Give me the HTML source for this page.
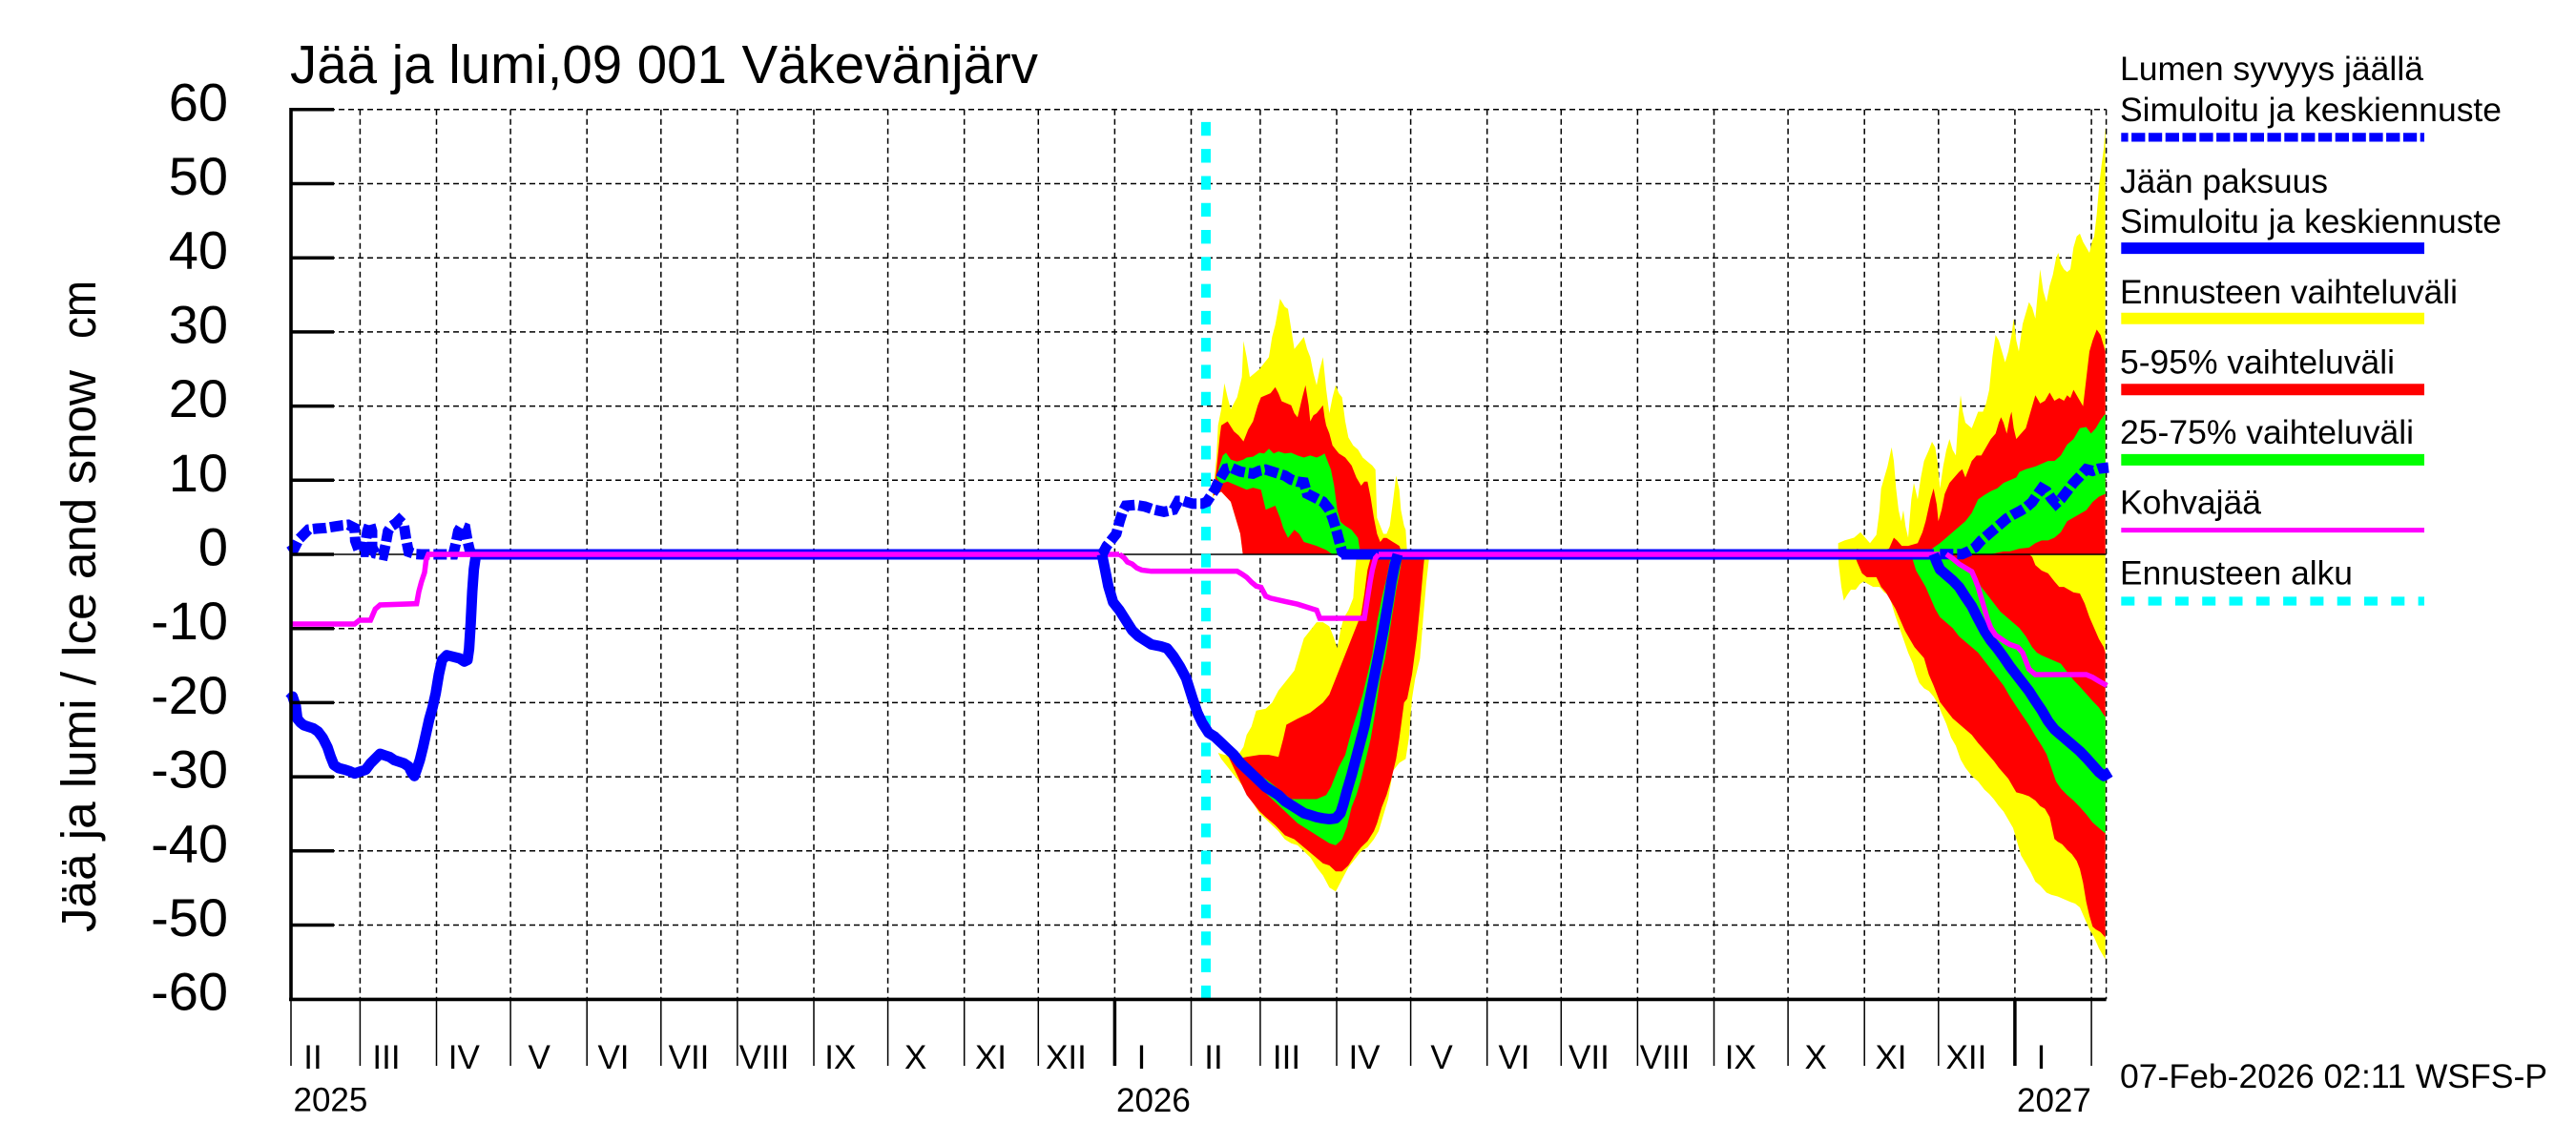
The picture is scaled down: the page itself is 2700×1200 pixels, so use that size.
<!DOCTYPE html>
<html><head><meta charset="utf-8">
<style>html,body{margin:0;padding:0;background:#fff;}svg{display:block}</style>
</head><body>
<svg width="2700" height="1200" viewBox="0 0 2700 1200" xmlns="http://www.w3.org/2000/svg" font-family="'Liberation Sans', Arial, sans-serif">
<rect width="2700" height="1200" fill="#fff"/>

<!-- grid -->
<path d="M377.4,114.8V1047.2 M457.5,114.8V1047.2 M535.1,114.8V1047.2 M615.2,114.8V1047.2 M692.8,114.8V1047.2 M772.9,114.8V1047.2 M853,114.8V1047.2 M930.6,114.8V1047.2 M1010.7,114.8V1047.2 M1088.3,114.8V1047.2 M1168.4,114.8V1047.2 M1248.5,114.8V1047.2 M1320.9,114.8V1047.2 M1401,114.8V1047.2 M1478.6,114.8V1047.2 M1558.7,114.8V1047.2 M1636.3,114.8V1047.2 M1716.4,114.8V1047.2 M1796.5,114.8V1047.2 M1874.1,114.8V1047.2 M1954.2,114.8V1047.2 M2031.8,114.8V1047.2 M2111.9,114.8V1047.2 M2192.1,114.8V1047.2 M2207.6,114.8V1047.2" stroke="#000" stroke-width="1.5" stroke-dasharray="6 4" fill="none"/>
<path d="M305,114.8H2207.6 M305,192.5H2207.6 M305,270.2H2207.6 M305,347.9H2207.6 M305,425.6H2207.6 M305,503.3H2207.6 M305,658.7H2207.6 M305,736.4H2207.6 M305,814.1H2207.6 M305,891.8H2207.6 M305,969.5H2207.6" stroke="#000" stroke-width="1.5" stroke-dasharray="6 4" fill="none"/>

<!-- 2026 forecast bands (zoom6 coords) -->
<g transform="translate(1140,290) scale(0.333333,0.42112)">
<path fill="#ffff00" d="M390,570 L405,450 410,370 420,330 430,265 440,300 450,330 470,300 485,250 490,160 500,200 510,250 525,240 540,230 555,215 570,200 580,150 590,120 605,55 620,75 630,80 640,130 650,180 665,165 680,150 690,180 700,200 710,240 720,270 730,230 740,200 750,280 760,340 770,300 780,270 790,290 800,300 810,360 820,400 835,420 850,430 865,450 880,460 895,470 905,480 910,600 920,620 930,640 940,640 950,620 960,560 970,495 980,530 985,580 995,620 1000,630 1005,691 L488,691 480,640 465,600 450,560 420,535 395,545 Z"/>
<path fill="#ff0000" d="M395,545 L405,480 415,400 420,370 440,360 460,385 475,395 490,410 505,380 520,360 535,320 545,300 560,295 575,290 590,275 600,290 610,310 625,315 640,320 650,340 660,350 675,300 685,270 695,320 700,360 710,345 720,340 730,330 740,320 745,350 750,370 760,390 770,420 780,430 790,440 810,450 830,470 845,500 860,520 870,510 880,510 890,550 900,600 910,640 920,660 930,650 940,650 950,655 960,660 970,665 980,670 990,691 L488,691 480,640 465,600 450,560 420,535 Z"/>
<path fill="#00ff00" d="M405,500 L415,470 425,445 435,438 450,455 470,460 490,455 500,450 520,448 540,438 555,440 570,428 585,440 600,435 620,440 640,438 660,445 680,450 700,445 720,450 735,445 745,440 755,460 765,480 775,520 785,580 795,610 810,620 830,630 850,650 858,691 L770,691 750,680 720,670 700,665 680,660 665,640 650,630 630,650 615,625 605,600 590,570 575,575 560,580 545,530 520,525 500,530 470,520 440,510 420,515 Z"/>
<path fill="#ffff00" d="M410,1185 L430,1190 470,1195 490,1170 500,1140 515,1120 530,1080 560,1075 580,1060 600,1030 620,1010 650,980 665,940 680,900 700,880 720,860 740,860 760,870 775,900 785,925 795,880 805,850 820,830 835,800 840,740 845,700 850,691 L1075,691 1065,760 1055,850 1045,950 1030,1000 1020,1050 1010,1150 1000,1200 980,1210 960,1230 945,1300 930,1340 915,1380 900,1400 880,1420 860,1430 840,1450 820,1470 800,1500 780,1530 760,1520 740,1490 720,1470 700,1445 680,1430 660,1415 640,1410 620,1400 600,1380 580,1365 560,1350 540,1335 520,1310 500,1280 480,1260 460,1240 440,1220 420,1200 Z"/>
<path fill="#ff0000" d="M440,1190 L470,1200 500,1195 540,1190 570,1190 600,1195 615,1150 625,1115 660,1100 700,1085 740,1060 760,1040 780,1000 800,960 830,900 860,840 870,790 880,730 890,700 900,691 L1060,691 1055,730 1045,820 1035,900 1020,990 1005,1050 995,1060 980,1150 970,1200 955,1250 940,1290 925,1320 910,1360 900,1380 880,1405 860,1420 840,1440 820,1465 800,1480 780,1480 760,1465 740,1460 710,1440 680,1420 650,1400 620,1390 590,1365 560,1345 540,1330 500,1290 470,1240 Z"/>
<path fill="#00ff00" d="M470,1195 L520,1230 560,1250 600,1275 640,1300 680,1300 720,1300 750,1290 765,1270 775,1250 790,1220 810,1190 830,1130 850,1080 865,1040 880,990 895,940 910,860 925,800 940,750 950,710 955,691 L990,691 980,740 970,780 960,830 950,880 935,950 920,1000 905,1080 890,1150 875,1200 860,1250 845,1290 830,1320 815,1370 800,1400 780,1415 760,1410 730,1395 700,1380 660,1360 620,1330 580,1300 540,1270 500,1235 Z"/>
</g>

<!-- 2027 forecast bands (zoom7 coords) -->
<g transform="translate(1900,110) scale(0.333333,0.57405)">
<path fill="#ffff00" d="M80,800 L100,795 130,790 150,780 165,790 180,800 200,785 210,740 215,700 225,680 235,660 248,625 255,650 262,700 270,740 278,760 285,740 292,770 300,790 310,720 318,690 330,720 340,680 350,650 365,630 375,615 385,625 392,650 400,700 410,660 420,630 430,610 440,630 450,640 458,570 465,530 472,560 480,580 490,585 500,590 510,575 520,560 535,560 545,545 555,520 565,460 575,420 585,430 595,450 605,470 615,450 625,420 632,390 640,430 648,450 660,400 670,380 680,360 690,370 700,390 708,340 715,300 725,340 735,360 745,330 755,310 765,280 772,270 780,290 790,300 800,305 810,300 820,260 830,240 840,235 850,250 860,260 870,270 878,250 885,240 893,200 900,150 908,110 915,80 920,40 L920,820 80,820 Z"/>
<path fill="#ff0000" d="M130,820 L140,810 160,815 200,815 240,810 255,790 265,795 280,805 300,805 330,800 345,780 355,760 370,720 380,700 390,730 395,760 405,740 415,710 430,690 445,680 460,670 470,665 480,680 490,665 500,650 515,640 530,640 545,625 560,610 575,600 585,580 592,570 600,580 610,600 620,570 625,560 632,590 640,610 655,600 670,590 685,560 700,530 715,545 730,540 745,525 760,540 775,535 790,540 800,530 810,535 820,520 835,535 850,550 860,500 870,450 880,430 893,410 905,420 915,440 920,450 L920,820 Z"/>
<path fill="#00ff00" d="M360,818 L380,808 400,800 420,790 440,780 460,770 480,760 500,745 520,720 540,712 560,705 580,700 600,690 620,685 640,680 650,670 670,665 700,660 720,655 740,650 760,650 780,640 800,620 820,610 840,590 860,588 875,600 890,590 905,575 918,565 920,565 L920,710 900,715 880,725 860,740 830,750 800,760 780,780 760,790 740,795 720,795 700,800 680,808 650,810 620,815 600,815 560,820 Z"/>
<path fill="#ffff00" d="M80,820 L920,820 920,1560 900,1540 885,1520 870,1505 855,1485 840,1465 825,1458 810,1455 790,1450 770,1445 750,1442 735,1438 715,1425 700,1418 685,1400 670,1385 655,1370 640,1340 630,1320 615,1305 600,1290 585,1280 570,1268 555,1258 540,1250 520,1235 500,1225 480,1210 465,1195 450,1170 435,1155 420,1130 405,1110 395,1095 380,1080 365,1070 350,1065 335,1055 325,1040 315,1020 300,1000 285,975 270,950 258,930 248,910 238,895 225,890 210,880 200,880 190,880 175,875 160,870 148,875 135,885 120,885 108,895 98,905 90,880 82,840 Z"/>
<path fill="#ff0000" d="M130,820 L680,820 690,825 700,840 720,850 740,855 760,870 775,880 790,880 805,885 820,890 840,892 855,910 870,935 885,955 900,975 915,990 920,1000 L920,1520 905,1510 890,1505 880,1500 870,1480 860,1455 850,1420 840,1395 830,1380 815,1368 800,1360 785,1350 770,1345 760,1340 745,1300 730,1285 715,1280 700,1270 680,1262 660,1258 640,1255 630,1245 615,1230 600,1220 585,1210 570,1198 555,1188 540,1178 520,1165 500,1150 480,1140 460,1130 440,1120 420,1105 400,1090 390,1075 380,1060 365,1040 350,1010 335,1000 320,990 305,975 290,960 275,940 260,920 245,905 230,890 215,880 200,862 185,862 170,862 155,855 140,835 Z"/>
<path fill="#00ff00" d="M310,822 L400,825 430,830 460,835 490,845 510,860 530,880 550,895 570,910 590,925 610,935 630,945 650,955 670,970 690,990 705,1000 720,1005 740,1010 760,1015 780,1020 800,1035 820,1050 840,1062 860,1075 880,1088 900,1100 920,1118 L920,1330 900,1320 880,1310 860,1295 840,1282 820,1270 800,1260 780,1248 765,1235 750,1210 735,1185 720,1170 700,1152 680,1132 660,1115 640,1098 620,1080 600,1060 580,1045 560,1030 540,1015 520,1000 500,990 480,980 460,970 440,955 420,945 400,935 385,920 370,900 355,880 340,865 325,850 Z"/>
</g>

<!-- zero line -->
<line x1="305" y1="581" x2="2207.6" y2="581" stroke="#000" stroke-width="1.5"/>

<!-- forecast start -->
<line x1="1264" y1="127.9" x2="1264" y2="1047.3" stroke="#00ffff" stroke-width="10" stroke-dasharray="14.3 13.98"/>

<!-- zero segments -->
<path d="M497,581H1155 M1406,581H2027" stroke="#0000ff" stroke-width="11" fill="none"/>
<path d="M450,581H1173 M1445,581H2043" stroke="#ff00ff" stroke-width="5.5" fill="none"/>

<!-- 2025 lines (zoom5 coords) -->
<g transform="translate(295,520) scale(0.333333)" fill="none">
<path vector-effect="non-scaling-stroke" stroke="#0000ff" stroke-width="11" stroke-dasharray="14 4" d="M25,175 L40,165 55,135 70,120 85,105 110,102 140,100 170,95 190,92 210,90 230,100 232,140 245,175 260,175 270,110 278,85 285,110 285,160 295,180 320,185 328,150 335,110 345,95 360,85 370,75 385,90 392,135 400,175 420,182 440,183 540,183 548,150 556,110 565,95 578,100 585,140 592,170 600,183"/>
<path vector-effect="non-scaling-stroke" stroke="#0000ff" stroke-width="11" stroke-linejoin="round" d="M25,640 L35,630 45,660 50,700 60,712 70,720 85,725 100,730 115,740 130,760 145,790 155,820 165,845 180,855 200,860 215,865 230,872 250,865 265,860 280,840 295,825 310,810 325,815 340,820 355,830 370,835 385,840 400,850 410,870 418,880 425,860 435,830 445,790 455,745 465,700 475,665 485,620 495,560 505,515 520,500 540,505 560,510 575,520 585,515 590,480 595,400 600,300 605,230 610,195 615,183 720,183"/>
<path vector-effect="non-scaling-stroke" stroke="#ff00ff" stroke-width="5.5" d="M30,402 L230,402 245,390 280,390 295,355 310,342 425,338 432,300 440,270 450,240 455,200 462,183 720,183"/>
</g>

<!-- 2026 lines (zoom6 coords) -->
<g transform="translate(1140,290) scale(0.333333,0.42112)" fill="none">
<path vector-effect="non-scaling-stroke" stroke="#0000ff" stroke-width="11" stroke-dasharray="14 4" d="M40,691 L50,685 60,670 75,655 90,640 100,610 110,585 120,570 150,568 180,572 210,580 240,585 270,580 285,558 300,558 330,565 360,565 375,560 385,548 400,530 410,512 420,498 435,478 450,475 480,485 500,488 520,490 540,483 560,480 580,485 600,490 620,495 640,505 660,510 680,512 690,540 710,548 740,560 760,580 770,600 780,625 790,655 800,685 810,691"/>
<path vector-effect="non-scaling-stroke" stroke="#0000ff" stroke-width="11" stroke-linejoin="round" d="M45,691 L55,730 65,770 80,810 100,830 120,855 140,880 160,895 180,905 200,915 230,920 250,925 270,945 290,970 310,1000 330,1050 345,1085 360,1110 380,1135 400,1145 420,1160 440,1175 460,1190 480,1210 500,1225 520,1240 540,1255 560,1270 580,1280 600,1290 620,1305 640,1315 660,1325 680,1335 700,1340 720,1345 740,1348 760,1350 780,1348 795,1335 805,1310 815,1280 830,1240 850,1180 870,1120 890,1040 910,960 930,880 945,810 955,760 965,720 975,691"/>
<path vector-effect="non-scaling-stroke" stroke="#ff00ff" stroke-width="5.5" d="M100,691 L115,700 125,710 140,715 155,725 170,730 200,733 300,733 470,733 485,740 500,748 515,760 530,770 545,773 560,795 575,800 620,808 660,815 700,825 720,830 730,850 870,850 880,800 888,760 895,730 905,700 915,691"/>
</g>

<!-- 2027 lines (zoom7 coords) -->
<g transform="translate(1900,110) scale(0.333333,0.57405)" fill="none">
<path vector-effect="non-scaling-stroke" stroke="#0000ff" stroke-width="11" stroke-dasharray="14 4" d="M400,820 L440,820 470,820 490,815 510,808 530,795 550,785 570,775 590,765 610,755 630,748 650,742 670,735 690,725 705,712 720,700 735,705 750,718 765,728 780,720 800,705 820,690 840,678 860,665 880,668 900,664 930,662"/>
<path vector-effect="non-scaling-stroke" stroke="#0000ff" stroke-width="11" stroke-linejoin="round" d="M380,820 L390,835 400,848 420,858 440,868 460,880 480,898 500,915 520,938 540,960 560,978 580,992 600,1008 620,1025 640,1040 660,1055 680,1070 700,1088 720,1105 740,1125 760,1140 780,1150 800,1160 820,1170 840,1180 860,1192 880,1205 900,1218 915,1225 935,1218"/>
<path vector-effect="non-scaling-stroke" stroke="#ff00ff" stroke-width="5.5" d="M420,820 L440,828 460,838 480,845 500,852 510,865 520,880 530,900 540,920 550,940 560,955 575,968 600,978 620,985 645,990 660,1000 670,1015 680,1030 700,1040 860,1040 880,1045 900,1052 925,1060"/>
</g>

<!-- axes -->
<line x1="305" y1="113" x2="305" y2="1049" stroke="#000" stroke-width="3.6"/>
<line x1="303" y1="1047.4" x2="2207.6" y2="1047.4" stroke="#000" stroke-width="3.6"/>
<path d="M305,114.8H350 M305,192.5H350 M305,270.2H350 M305,347.9H350 M305,425.6H350 M305,503.3H350 M305,581H350 M305,658.7H350 M305,736.4H350 M305,814.1H350 M305,891.8H350 M305,969.5H350" stroke="#000" stroke-width="3.5" fill="none"/>
<path d="M305,1047V1117 M377.4,1047V1117 M457.5,1047V1117 M535.1,1047V1117 M615.2,1047V1117 M692.8,1047V1117 M772.9,1047V1117 M853,1047V1117 M930.6,1047V1117 M1010.7,1047V1117 M1088.3,1047V1117 M1248.5,1047V1117 M1320.9,1047V1117 M1401,1047V1117 M1478.6,1047V1117 M1558.7,1047V1117 M1636.3,1047V1117 M1716.4,1047V1117 M1796.5,1047V1117 M1874.1,1047V1117 M1954.2,1047V1117 M2031.8,1047V1117 M2192.1,1047V1117" stroke="#000" stroke-width="1.5" fill="none"/>
<path d="M1168.4,1047V1117 M2111.9,1047V1117" stroke="#000" stroke-width="3.5" fill="none"/>

<!-- y tick labels -->
<g font-size="56" text-anchor="end" fill="#000">
<text x="239" y="126.3">60</text>
<text x="239" y="204">50</text>
<text x="239" y="281.7">40</text>
<text x="239" y="359.4">30</text>
<text x="239" y="437.1">20</text>
<text x="239" y="514.8">10</text>
<text x="239" y="592.5">0</text>
<text x="239" y="670.2">-10</text>
<text x="239" y="747.9">-20</text>
<text x="239" y="825.6">-30</text>
<text x="239" y="903.3">-40</text>
<text x="239" y="981">-50</text>
<text x="239" y="1058.7">-60</text>
</g>

<!-- month labels -->
<g font-size="35" text-anchor="middle" fill="#000">
<text x="328" y="1120">II</text>
<text x="405" y="1120">III</text>
<text x="486.3" y="1120">IV</text>
<text x="565.2" y="1120">V</text>
<text x="643" y="1120">VI</text>
<text x="722" y="1120">VII</text>
<text x="801" y="1120">VIII</text>
<text x="880.8" y="1120">IX</text>
<text x="959.7" y="1120">X</text>
<text x="1038.5" y="1120">XI</text>
<text x="1117.4" y="1120">XII</text>
<text x="1196.5" y="1120">I</text>
<text x="1272" y="1120">II</text>
<text x="1348.5" y="1120">III</text>
<text x="1430" y="1120">IV</text>
<text x="1511" y="1120">V</text>
<text x="1587" y="1120">VI</text>
<text x="1665.4" y="1120">VII</text>
<text x="1745" y="1120">VIII</text>
<text x="1824.3" y="1120">IX</text>
<text x="1903.2" y="1120">X</text>
<text x="1982" y="1120">XI</text>
<text x="2060.9" y="1120">XII</text>
<text x="2139.5" y="1120">I</text>
</g>
<g font-size="35" fill="#000">
<text x="307.5" y="1164.5">2025</text>
<text x="1170" y="1165">2026</text>
<text x="2114" y="1165">2027</text>
<text x="2222" y="1140" textLength="448" lengthAdjust="spacingAndGlyphs">07-Feb-2026 02:11 WSFS-P</text>
</g>

<!-- title -->
<text x="304" y="87" font-size="57" textLength="784" lengthAdjust="spacingAndGlyphs" fill="#000">Jää ja lumi,09 001 Väkevänjärv</text>

<!-- y axis label -->
<text transform="translate(100,977) rotate(-90)" font-size="51" textLength="589" lengthAdjust="spacingAndGlyphs" fill="#000">Jää ja lumi / Ice and snow</text>
<text transform="translate(100,355) rotate(-90)" font-size="51" textLength="61" lengthAdjust="spacingAndGlyphs" fill="#000">cm</text>

<!-- legend -->
<g font-size="35" fill="#000">
<text x="2222" y="84.2" textLength="318" lengthAdjust="spacingAndGlyphs">Lumen syvyys jäällä</text>
<text x="2222" y="127.1" textLength="400" lengthAdjust="spacingAndGlyphs">Simuloitu ja keskiennuste</text>
<text x="2222" y="202" textLength="218" lengthAdjust="spacingAndGlyphs">Jään paksuus</text>
<text x="2222" y="244.1" textLength="400" lengthAdjust="spacingAndGlyphs">Simuloitu ja keskiennuste</text>
<text x="2222" y="317.8" textLength="354" lengthAdjust="spacingAndGlyphs">Ennusteen vaihteluväli</text>
<text x="2222" y="391.4" textLength="288" lengthAdjust="spacingAndGlyphs">5-95% vaihteluväli</text>
<text x="2222" y="465.1" textLength="308" lengthAdjust="spacingAndGlyphs">25-75% vaihteluväli</text>
<text x="2222" y="538.7" textLength="148" lengthAdjust="spacingAndGlyphs">Kohvajää</text>
<text x="2222" y="612.4" textLength="244" lengthAdjust="spacingAndGlyphs">Ennusteen alku</text>
</g>
<line x1="2223.3" y1="143.9" x2="2541" y2="143.9" stroke="#0000ff" stroke-width="9.3" stroke-dasharray="14.3 3.5" stroke-dashoffset="7"/>
<line x1="2223.3" y1="260.1" x2="2541" y2="260.1" stroke="#0000ff" stroke-width="12"/>
<line x1="2223.3" y1="333.8" x2="2541" y2="333.8" stroke="#ffff00" stroke-width="12"/>
<line x1="2223.3" y1="408.2" x2="2541" y2="408.2" stroke="#ff0000" stroke-width="12"/>
<line x1="2223.3" y1="481.9" x2="2541" y2="481.9" stroke="#00ff00" stroke-width="12"/>
<line x1="2223.3" y1="555.6" x2="2541" y2="555.6" stroke="#ff00ff" stroke-width="5"/>
<line x1="2223.3" y1="630" x2="2541" y2="630" stroke="#00ffff" stroke-width="9.3" stroke-dasharray="14 14.3"/>
</svg>
</body></html>
